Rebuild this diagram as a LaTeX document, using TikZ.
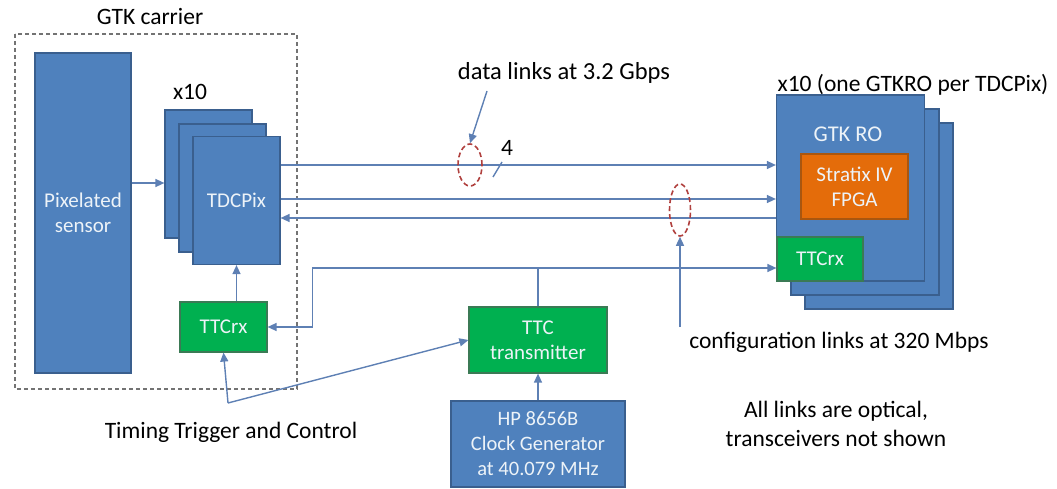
\documentclass[tikz,border=0pt]{standalone}
\usepackage{fontspec}
\setmainfont{Carlito}
\usetikzlibrary{arrows.meta,shapes.geometric}
\definecolor{boxblue}{HTML}{4F81BD}
\definecolor{boxedge}{HTML}{3A5F8E}
\definecolor{ttcgreen}{HTML}{00B050}
\definecolor{ttcedge}{HTML}{3B7A55}
\definecolor{fpgaorange}{HTML}{E46C0A}
\definecolor{fpgaedge}{HTML}{A9560F}
\definecolor{linkblue}{HTML}{5E80B4}
\definecolor{ringred}{HTML}{B0403E}
\tikzset{
  lbl/.style={font=\fontsize{23.5}{29}\selectfont, align=center, inner sep=0pt},
  blk/.style={font=\fontsize{21}{25}\selectfont, align=center, inner sep=0pt, draw=boxedge, line width=1.2pt, fill=boxblue, text=white!90!boxblue},
  ttcblk/.style={blk, draw=ttcedge, fill=ttcgreen},
  fpgablk/.style={blk, draw=fpgaedge, fill=fpgaorange},
  link/.style={draw=linkblue, line width=1.4pt},
  lnk/.style={link, -{Triangle[length=9pt,width=8pt]}},
  ring/.style={draw=ringred, line width=1.6pt, dash pattern=on 5pt off 3pt, ellipse, inner sep=0pt},
}

\begin{document}
\begin{tikzpicture}[x=1pt, y=-1pt]
		%%%%% START %%%%%
		\useasboundingbox (0,0) rectangle (1057,489);
		
		% carrier board
		\draw[gray!90!black, line width=1.2pt, dash pattern=on 4pt off 3pt] (15,34) rectangle (297,389);
		\node[lbl] (carrier) at (150,17) {GTK carrier};
		\node[blk, minimum width=96pt, minimum height=320pt] (sensor) at (83,213) {Pixelated\\sensor};
		
		\node[lbl] (tdcnum) at (190,92) {x10};
		\node[blk, minimum width=87pt, minimum height=128pt] (tdcback) at (208.5,174) {};
		\node[blk, minimum width=87pt, minimum height=128pt] (tdcmid) at (222.5,188) {};
		\node[blk, minimum width=87pt, minimum height=128pt] (tdcfront) at (236.5,200.5) {TDCPix};
		\node[ttcblk, minimum width=87pt, minimum height=50pt] (ttcrxl) at (223.5,327) {TTCrx};
		
		% readout boards
		\node[lbl] (ronum) at (913,85) {x10 (one GTKRO per TDCPix)};
		\node[blk, minimum width=148pt, minimum height=186pt] (roback) at (879,216) {};
		\node[blk, minimum width=148pt, minimum height=186pt] (romid) at (865,202) {};
		\node[blk, minimum width=148pt, minimum height=186pt] (rofront) at (850.5,188) {};
		\node[blk, draw=none, font=\fontsize{22.5}{27}\selectfont] (rolabel) at (848,134) {GTK RO};
		\node[fpgablk, minimum width=107pt, minimum height=65pt] (fpga) at (854.5,186.5) {Stratix IV\\FPGA};
		\node[ttcblk, minimum width=86pt, minimum height=44pt] (ttcrxr) at (820,259) {TTCrx};
		
		% TTC source
		\node[ttcblk, minimum width=138pt, minimum height=66pt] (ttctx) at (538,340) {TTC\\transmitter};
		\node[blk, minimum width=174pt, minimum height=86pt, font=\fontsize{20.5}{25}\selectfont] (clock) at (538,444) {HP 8656B\\Clock Generator\\at 40.079 MHz};
		
		% links
		\draw[lnk] (sensor.east |- 0,183) -- (tdcback.west |- 0,183);
		\draw[lnk] (tdcfront.east |- 0,165) -- (rofront.west |- 0,165);
		\draw[lnk] (tdcfront.east |- 0,199) -- (rofront.west |- 0,199);
		\draw[lnk] (rofront.west |- 0,218) -- (tdcfront.east |- 0,218);
		\draw[lnk] (tdcfront.south |- ttcrxl.north) -- (tdcfront.south);
		\draw[lnk] (clock.north) -- (ttctx.south);
		
		\coordinate (split) at (ttctx.north |- 0,268);
		\draw[link] (ttctx.north) -- (split);
		\draw[lnk] (split) -| ([xshift=45pt]ttcrxl.east) -- (ttcrxl.east);
		\draw[lnk] (split) -- (ttcrxr.west |- split);
		
		% annotations
		\node[ring, minimum width=24pt, minimum height=42pt] (dataring) at (470,165) {};
		\node[ring, minimum width=21pt, minimum height=52pt] (cfgring) at (680,210) {};
		\node[lbl, font=\fontsize{24.5}{29}\selectfont] (datalabel) at (564,73) {data links at 3.2 Gbps};
		\coordinate (datatail) at (487,91);
		\draw[lnk] (datatail) -- (dataring.north);
		\node[lbl] (width) at (507,148) {4};
		\draw[link] (493,177) -- (502,162);
		
		\node[lbl] (cfglabel) at (839,342) {configuration links at 320 Mbps};
		\coordinate (cfgtail) at (680,327);
		\draw[lnk] (cfgtail) -- (cfgring.south);
		
		\node[lbl] (ttclabel) at (231,432) {Timing Trigger and Control};
		\coordinate (ttcfork) at (228,403);
		\draw[lnk] (ttcfork) -- (ttcrxl.south);
		\draw[lnk] (ttcfork) -- (ttctx.west);
		
		\node[lbl] (note) at (836,424) {All links are optical,\\transceivers not shown};
		%%%%% END %%%%%
	\end{tikzpicture}
\end{document}
